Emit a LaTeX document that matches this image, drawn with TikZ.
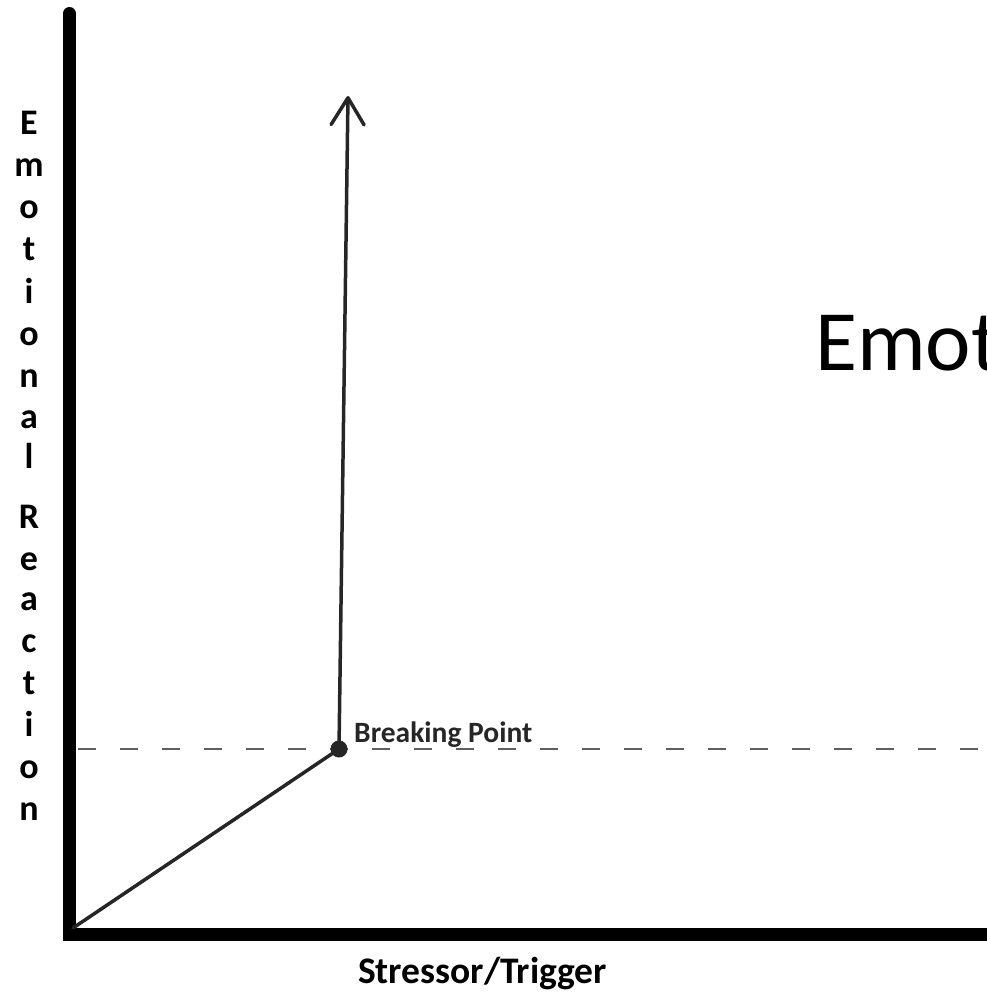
\documentclass[tikz,border=0pt]{standalone}
\usepackage{fontspec}
\setmainfont{Carlito}
\usetikzlibrary{arrows.meta}
\definecolor{lineGray}{RGB}{38,38,38}
\definecolor{dashGray}{RGB}{95,95,95}

\begin{document}
\begin{tikzpicture}[x=1pt,y=-1pt,
    axis/.style={line width=13pt, line cap=round, line join=miter},
    curve/.style={line width=3.5pt, lineGray, line cap=round},
    letter/.style={font=\bfseries\fontsize{36}{36}\selectfont, inner sep=0pt, anchor=base}]
    \useasboundingbox (0,0) rectangle (986,995);
    % axes
    \draw[axis] (69.5,13.5) -- (69.5,934.5) -- (1010,934.5);
    % threshold
    \draw[dashGray, line width=1.5pt, dash pattern=on 18pt off 24pt] (78,749) -- (986,749);
    \coordinate (origin) at (73,928);
    \coordinate (top) at (348,96);
    \node[circle, fill=lineGray, inner sep=0pt, minimum size=17pt] (bp) at (339,749) {};
    \draw[curve] (origin) -- (bp.center);
    \draw[curve, -{Straight Barb[length=27pt, width=33pt, round]}] (bp.center) -- (top);
    \node[font=\bfseries\fontsize{29.5}{29.5}\selectfont, text=lineGray, anchor=base west, inner sep=0pt] (bplabel) at (354,742) {Breaking Point};
    \node[font=\fontsize{86}{86}\selectfont, anchor=base west, inner sep=0pt] (title) at (815,370) {Emot};
    \node[font=\bfseries\fontsize{37.5}{37.5}\selectfont, anchor=base west, inner sep=0pt] (xlabel) at (358,983) {Stressor/Trigger};
    % vertical label
    \foreach \ch/\yy in {E/135, m/176, o/218, t/260, i/303, o/345, n/387, a/428, l/468,
                         R/528, e/570, a/610, c/652, t/694, i/736, o/778, n/820}
        \node[letter] at (29,\yy) {\ch};
\end{tikzpicture}
\end{document}
